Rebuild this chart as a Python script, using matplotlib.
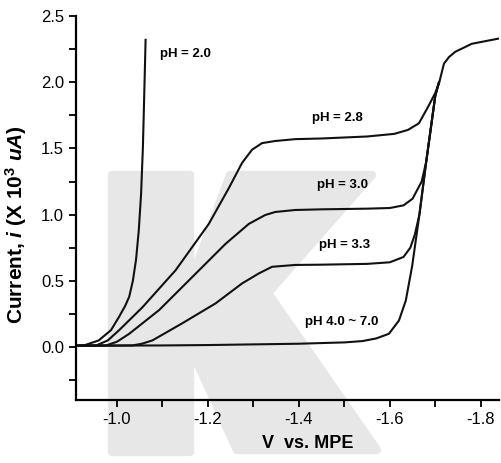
import numpy as np
import matplotlib
matplotlib.use('Agg')
import matplotlib.pyplot as plt
from matplotlib.patches import Polygon
from matplotlib.ticker import MultipleLocator, FormatStrFormatter

plt.rcParams['font.family'] = ['Liberation Sans', 'DejaVu Sans']
plt.rcParams['mathtext.fontset'] = 'custom'
plt.rcParams['mathtext.rm'] = 'Liberation Sans'
plt.rcParams['mathtext.it'] = 'Liberation Sans:italic'
plt.rcParams['mathtext.bf'] = 'Liberation Sans:bold'
plt.rcParams['mathtext.bfit'] = 'Liberation Sans:bold:italic'

# potential (V vs. MPE) and current (x10^3 uA)
v_20 = [-0.91, -0.93, -0.96, -0.987, -1.005, -1.018, -1.027, -1.035, -1.042, -1.048, -1.053,
        -1.057, -1.060, -1.063]
i_20 = [0.01, 0.015, 0.05, 0.128, 0.23, 0.31, 0.38, 0.50, 0.66, 0.88, 1.15,
        1.50, 1.90, 2.32]

v_28 = [-0.91, -0.954, -0.98, -1.005, -1.056, -1.129, -1.202, -1.246, -1.275, -1.297, -1.319,
        -1.348, -1.392, -1.45, -1.55, -1.61, -1.64, -1.664, -1.685, -1.70, -1.708, -1.719,
        -1.73, -1.744, -1.78, -1.81, -1.84]
i_28 = [0.01, 0.012, 0.05, 0.128, 0.30, 0.58, 0.93, 1.20, 1.39, 1.49, 1.54,
        1.556, 1.57, 1.575, 1.59, 1.61, 1.64, 1.69, 1.82, 1.92, 1.99, 2.14,
        2.19, 2.23, 2.29, 2.31, 2.33]

v_30 = [-0.91, -0.976, -1.0, -1.027, -1.093, -1.166, -1.239, -1.29, -1.326, -1.348, -1.392,
        -1.45, -1.55, -1.60, -1.63, -1.65, -1.67, -1.68, -1.69, -1.70, -1.708]
i_30 = [0.01, 0.012, 0.04, 0.10, 0.28, 0.53, 0.78, 0.93, 0.997, 1.02, 1.035,
        1.04, 1.045, 1.05, 1.07, 1.12, 1.25, 1.40, 1.65, 1.90, 2.00]

v_33 = [-0.91, -1.034, -1.055, -1.078, -1.144, -1.217, -1.275, -1.312, -1.341, -1.392, -1.45,
        -1.55, -1.60, -1.63, -1.645, -1.655, -1.665, -1.68, -1.69, -1.70, -1.708]
i_33 = [0.01, 0.012, 0.025, 0.05, 0.18, 0.33, 0.48, 0.556, 0.606, 0.62, 0.622,
        0.628, 0.64, 0.68, 0.75, 0.85, 1.00, 1.40, 1.65, 1.90, 2.00]

v_47 = [-0.91, -1.10, -1.20, -1.30, -1.40, -1.50, -1.54, -1.57, -1.598, -1.62, -1.635,
        -1.649, -1.665, -1.68, -1.69, -1.70, -1.708]
i_47 = [0.01, 0.012, 0.015, 0.02, 0.025, 0.035, 0.045, 0.065, 0.10, 0.20, 0.35,
        0.61, 1.00, 1.40, 1.65, 1.90, 2.00]

labels = ['pH = 2.0', 'pH = 2.8', 'pH = 3.0', 'pH = 3.3', 'pH 4.0 ~ 7.0']
label_v = [-1.094, -1.485, -1.495, -1.50, -1.495]
label_i = [2.21, 1.73, 1.224, 0.77, 0.19]

fig = plt.figure(figsize=(5.01, 4.63), dpi=100)

# light grey "K" watermark behind the plot
W, H = 501, 463
k_px = [(112, 175), (190, 175), (190, 283), (230, 175), (372, 175), (268, 293),
        (377, 450), (237, 450), (190, 347), (190, 452), (112, 452)]
k = Polygon([(x / W, 1 - y / H) for x, y in k_px], closed=True,
            transform=fig.transFigure, facecolor='#e7e7e7', edgecolor='#e7e7e7',
            joinstyle='round', linewidth=6, zorder=-1)
fig.patches.append(k)

ax = fig.add_axes([76 / W, 1 - 400 / H, (499 - 76) / W, (400 - 16) / H])
ax.patch.set_alpha(0)

for v, i in [(v_20, i_20), (v_28, i_28), (v_30, i_30), (v_33, i_33), (v_47, i_47)]:
    ax.plot(v, i, color='#111111', lw=1.5, solid_joinstyle='round')

for t, x, y in zip(labels, label_v, label_i):
    ha = 'left' if t == 'pH = 2.0' else 'center'
    ax.text(x, y, t, fontsize=9.5, fontweight='bold', ha=ha, va='center')

ax.set_xlim(-0.91, -1.84)
ax.set_ylim(-0.40, 2.5)
ax.xaxis.set_major_locator(MultipleLocator(0.2))
ax.xaxis.set_minor_locator(MultipleLocator(0.1))
ax.yaxis.set_major_locator(MultipleLocator(0.5))
ax.yaxis.set_minor_locator(MultipleLocator(0.25))
ax.xaxis.set_major_formatter(FormatStrFormatter('%.1f'))
ax.yaxis.set_major_formatter(FormatStrFormatter('%.1f'))
ax.tick_params(which='both', direction='out', length=5, width=1.3, labelsize=12)

for s in ['top', 'right']:
    ax.spines[s].set_visible(False)
for s in ['left', 'bottom']:
    ax.spines[s].set_linewidth(1.6)

ax.set_xlabel('V  vs. MPE', fontsize=13, fontweight='bold', va='center')
ax.xaxis.set_label_coords(0.548, -0.112)
ax.set_ylabel(r'Current, $\mathbfit{i}$ (X 10$^{\mathbf{3}}$ $\mathbfit{uA}$)',
              fontsize=15, fontweight='bold', va='center')
ax.yaxis.set_label_coords(-0.142, 0.456)

fig.savefig('out.png', dpi=100)
